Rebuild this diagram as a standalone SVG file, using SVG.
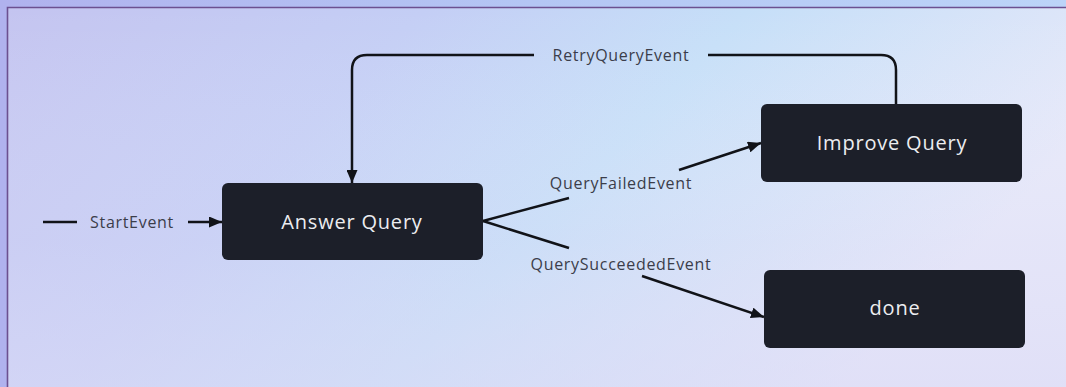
<svg xmlns="http://www.w3.org/2000/svg" width="1066" height="387" viewBox="0 0 1066 387">
  <defs>
    <linearGradient id="bgOuter" x1="0" y1="0" x2="1" y2="0">
      <stop offset="0" stop-color="#b0b2ee"/>
      <stop offset="0.5" stop-color="#b4c6f4"/>
      <stop offset="1" stop-color="#bcd4f8"/>
    </linearGradient>
    <linearGradient id="bgInner" x1="0" y1="0" x2="1" y2="0.35">
      <stop offset="0" stop-color="#c4c4f0"/>
      <stop offset="0.35" stop-color="#c4cef5"/>
      <stop offset="0.62" stop-color="#c6dff8"/>
      <stop offset="1" stop-color="#e6e8f9"/>
    </linearGradient>
    <linearGradient id="bgFade" x1="0" y1="0" x2="0" y2="1">
      <stop offset="0" stop-color="#ffffff" stop-opacity="0"/>
      <stop offset="0.6" stop-color="#e0dcf6" stop-opacity="0.25"/>
      <stop offset="1" stop-color="#dcdaf6" stop-opacity="0.6"/>
    </linearGradient>
    <marker id="arrow" viewBox="0 0 13 11" refX="13" refY="5.5" markerWidth="13" markerHeight="11" markerUnits="userSpaceOnUse" orient="auto">
      <path d="M0,0 L13,5.5 L0,11 Z" fill="#111318"/>
    </marker>
    <style>
      .node rect { fill: #1c1f29; }
      .node text { fill: #ecedf0; font-family: "Open Sans", "Noto Sans", sans-serif; font-size: 20px; letter-spacing: 0.8px; text-anchor: middle; }
      .edge { fill: none; stroke: #111318; stroke-width: 2.5; }
      .lbl { fill: #3b3d4a; font-family: "Open Sans", "Noto Sans", sans-serif; font-size: 16px; letter-spacing: 0.7px; text-anchor: middle; }
    </style>
  </defs>

  <!-- backdrop and frame -->
  <rect x="0" y="0" width="1066" height="387" fill="url(#bgOuter)"/>
  <rect x="7" y="7" width="1070" height="390" fill="url(#bgInner)"/>
  <rect x="7" y="7" width="1070" height="390" fill="url(#bgFade)"/>
  <path d="M7.5,390 L7.5,7.5 L1066,7.5" fill="none" stroke="#6c5090" stroke-width="1.6"/>

  <!-- connectors -->
  <g id="connectors">
    <line class="edge" x1="43" y1="222" x2="77" y2="222"/>
    <text class="lbl" x="132" y="228">StartEvent</text>
    <line class="edge" x1="188" y1="222" x2="222" y2="222" marker-end="url(#arrow)"/>

    <path class="edge" d="M896,104 L896,70 Q896,55 881,55 L708,55"/>
    <text class="lbl" x="621" y="61">RetryQueryEvent</text>
    <path class="edge" d="M534,55 L367,55 Q352,55 352,70 L352,183" marker-end="url(#arrow)"/>

    <line class="edge" x1="483" y1="221" x2="569" y2="198"/>
    <text class="lbl" x="621" y="189">QueryFailedEvent</text>
    <line class="edge" x1="679" y1="170" x2="761" y2="143" marker-end="url(#arrow)"/>

    <line class="edge" x1="483" y1="221" x2="569" y2="248"/>
    <text class="lbl" x="621" y="270">QuerySucceededEvent</text>
    <line class="edge" x1="642" y1="276" x2="764" y2="317" marker-end="url(#arrow)"/>
  </g>

  <!-- nodes -->
  <g id="answer-query" class="node">
    <rect x="222" y="183" width="261" height="77" rx="6"/>
    <text x="352" y="229">Answer Query</text>
  </g>
  <g id="improve-query" class="node">
    <rect x="761" y="104" width="261" height="78" rx="6"/>
    <text x="892" y="150">Improve Query</text>
  </g>
  <g id="done" class="node">
    <rect x="764" y="270" width="261" height="78" rx="6"/>
    <text x="895" y="315">done</text>
  </g>
</svg>
